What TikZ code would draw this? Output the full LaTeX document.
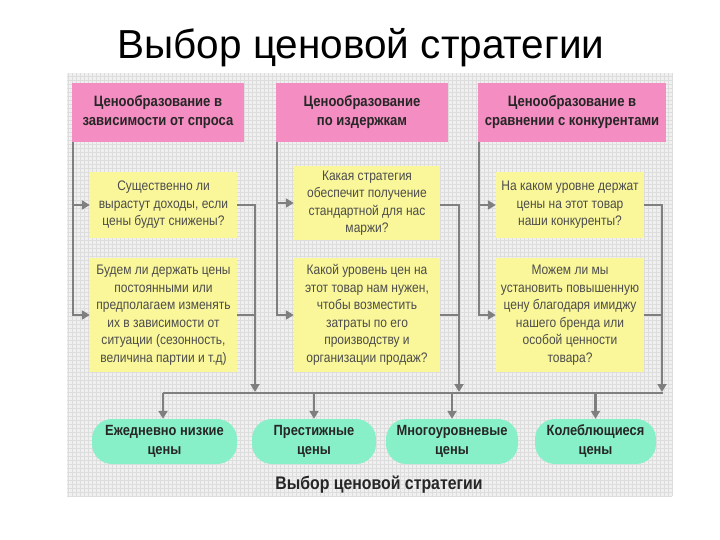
\documentclass[tikz,border=0pt]{standalone}
\usepackage{fontspec}
\setmainfont{Liberation Sans}
\newfontfamily\nf[FakeStretch=0.87]{Liberation Sans}
\usetikzlibrary{arrows.meta}
\definecolor{pinkc}{HTML}{F48DC1}
\definecolor{yelc}{HTML}{FAF79B}
\definecolor{grnc}{HTML}{88F0C8}
\definecolor{linec}{HTML}{7F7F7F}
\definecolor{bgc}{HTML}{F0F0F0}
\definecolor{gridc}{HTML}{DDDDDD}
\tikzset{
  pinkbox/.style={fill=pinkc, inner sep=0pt, align=center, text=black!85,
    font=\nf\bfseries\fontsize{15}{19}\selectfont},
  yelbox/.style={fill=yelc, inner sep=0pt, align=center, text=black!70,
    font=\nf\fontsize{13.8}{17.5}\selectfont},
  grnbox/.style={fill=grnc, inner sep=0pt, align=center, rounded corners=20pt, text=black!85,
    font=\nf\bfseries\fontsize{14.8}{19}\selectfont},
  conn/.style={draw=linec, line width=2.5pt},
  arr/.style={conn, -{Triangle[length=8pt,width=9pt]}},
}
\begin{document}
\begin{tikzpicture}[x=1pt,y=-1pt]
\useasboundingbox (0,0) rectangle (720,540);
\fill[white] (0,0) rectangle (720,540);
% background panel
\fill[bgc] (67,73) rectangle (672,496);
\draw[gridc, line width=0.3pt] (67,73) grid[step=4pt] (672,496);
% title
\node[anchor=base, font=\fontsize{40.5}{48}\selectfont] (title) at (361,59) {Выбор ценовой стратегии};
% pink header boxes
\node[pinkbox, minimum width=172pt, minimum height=59pt] (p1) at (158,112.5) {Ценообразование в\\зависимости от спроса};
\node[pinkbox, minimum width=172pt, minimum height=59pt] (p2) at (362,112.5) {Ценообразование\\по издержкам};
\node[pinkbox, minimum width=188pt, minimum height=59pt] (p3) at (572,112.5) {Ценообразование в\\сравнении с конкурентами};
% yellow question boxes, row 1
\node[yelbox, minimum width=147pt, minimum height=66pt] (y1a) at (163.5,205) {Существенно ли\\вырастут доходы, если\\цены будут снижены?};
\node[yelbox, minimum width=146pt, minimum height=74pt] (y2a) at (367,203) {Какая стратегия\\обеспечит получение\\стандартной для нас\\маржи?};
\node[yelbox, minimum width=148pt, minimum height=66pt] (y3a) at (570,205) {На каком уровне держат\\цены на этот товар\\наши конкуренты?};
% yellow question boxes, row 2
\node[yelbox, minimum width=147pt, minimum height=114pt] (y1b) at (163.5,315) {Будем ли держать цены\\постоянными или\\предполагаем изменять\\их в зависимости от\\ситуации (сезонность,\\величина партии и т.д)};
\node[yelbox, minimum width=146pt, minimum height=114pt] (y2b) at (367,315) {Какой уровень цен на\\этот товар нам нужен,\\чтобы возместить\\затраты по его\\производству и\\организации продаж?};
\node[yelbox, minimum width=148pt, minimum height=114pt] (y3b) at (570,315) {Можем ли мы\\установить повышенную\\цену благодаря имиджу\\нашего бренда или\\особой ценности\\товара?};
% green result boxes
\node[grnbox, minimum width=145pt, minimum height=45pt] (g1) at (164.5,441.5) {Ежедневно низкие\\цены};
\node[grnbox, minimum width=124pt, minimum height=45pt] (g2) at (314,441.5) {Престижные\\цены};
\node[grnbox, minimum width=132pt, minimum height=45pt] (g3) at (452,441.5) {Многоуровневые\\цены};
\node[grnbox, minimum width=121pt, minimum height=45pt] (g4) at (595.5,441.5) {Колеблющиеся\\цены};
% bottom caption
\node[anchor=base, font=\nf\bfseries\fontsize{18.2}{21}\selectfont, text=black!85] (cap) at (379,489) {Выбор ценовой стратегии};
% collector coordinates
\coordinate (c1) at (255,392);
\coordinate (c2) at (459,392);
\coordinate (c3) at (662,392);
\coordinate (hl) at (163,393);
\coordinate (hr) at (663.25,393);
% left feeders
\draw[arr] ([xshift=1.25pt]p1.south west) |- (y1a.west);
\draw[arr] ([xshift=1.25pt]p1.south west) |- (y1b.west);
\draw[arr] ([xshift=1.25pt]p2.south west) |- (y2a.west);
\draw[arr] ([xshift=1.25pt]p2.south west) |- (y2b.west);
\draw[arr] ([xshift=1.25pt]p3.south west) |- (y3a.west);
\draw[arr] ([xshift=1.25pt]p3.south west) |- (y3b.west);
% right collectors
\draw[arr] (y1a.east) -| (c1);
\draw[conn] (y1b.east) -- (y1b.east -| c1);
\draw[arr] (y2a.east |- y1a.east) -| (c2);
\draw[conn] (y2b.east) -- (y2b.east -| c2);
\draw[arr] (y3a.east) -| (c3);
\draw[conn] (y3b.east) -- (y3b.east -| c3);
% horizontal distributor
\draw[conn] (hl) -- (hr);
\draw[arr] (hl) -- (g1.north -| hl);
\draw[arr] (g2.north |- hl) -- (g2.north);
\draw[arr] (g3.north |- hl) -- (g3.north);
\draw[arr] (g4.north |- hl) -- (g4.north);
\end{tikzpicture}
\end{document}
